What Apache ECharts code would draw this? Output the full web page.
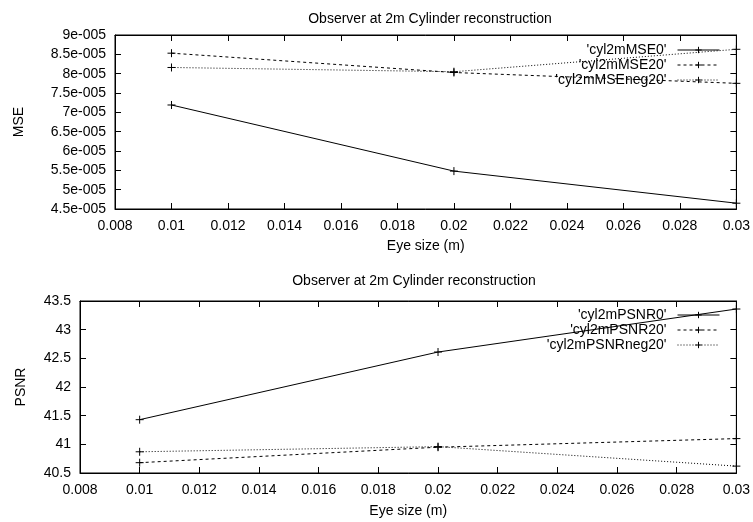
<!DOCTYPE html>
<html>
<head>
<meta charset="utf-8">
<script src="https://cdn.jsdelivr.net/npm/echarts@6/dist/echarts.min.js"></script>
<style>
  html, body { margin: 0; padding: 0; background: #fff; }
  #chart { width: 753px; height: 522px; }
</style>
</head>
<body>
<div id="chart"></div>
<script>
// eye size (m)
var eyeSize = [0.01, 0.02, 0.03]
// MSE per reconstruction
var mse0 = [7.19e-5, 5.48e-5, 4.65e-5]
var mse20 = [8.53e-5, 8.03e-5, 7.75e-5]
var mseNeg20 = [8.16e-5, 8.05e-5, 8.63e-5]
// PSNR per reconstruction
var psnr0 = [41.43, 42.61, 43.36]
var psnr20 = [40.68, 40.95, 41.10]
var psnrNeg20 = [40.87, 40.96, 40.62]

var titleText = 'Observer at 2m Cylinder reconstruction'
var font = 'Liberation Sans, Arial, Helvetica, sans-serif'
var plus = 'path://M0,5L10,5M5,0L5,10'

function pairs (ys) {
  return ys.map(function (y, i) { return [eyeSize[i], y] })
}

function mkSeries (name, ys, type, xi, yi) {
  return {
    name: name,
    type: 'line',
    xAxisIndex: xi,
    yAxisIndex: yi,
    symbol: plus,
    symbolSize: 8,
    showSymbol: true,
    animation: false,
    itemStyle: { color: 'transparent', borderColor: '#000', borderWidth: 1 },
    lineStyle: { color: '#000', width: 1, type: type },
    data: pairs(ys)
  }
}

function xAx (gi, pos, show, gap) {
  return {
    type: 'value', gridIndex: gi, position: pos,
    min: 0.008, max: 0.03, interval: 0.002,
    name: show ? 'Eye size (m)' : '', nameLocation: 'middle', nameGap: gap,
    nameTextStyle: { color: '#000', fontSize: 14, fontFamily: font },
    axisLine: { show: true, onZero: false, lineStyle: { color: '#000', width: 1 } },
    axisTick: { show: true, inside: true, length: 6, lineStyle: { color: '#000' } },
    axisLabel: { show: show, color: '#000', fontSize: 14, fontFamily: font, margin: 10,
      formatter: function (v) { return String(+v.toFixed(3)) } },
    splitLine: { show: false }
  }
}

function yAx (gi, pos, show, min, max, interval, name, gap, fmt) {
  return {
    type: 'value', gridIndex: gi, position: pos,
    min: min, max: max, interval: interval,
    name: show ? name : '', nameLocation: 'middle', nameGap: gap, nameRotate: 90,
    nameTextStyle: { color: '#000', fontSize: 14, fontFamily: font },
    axisLine: { show: true, onZero: false, lineStyle: { color: '#000', width: 1 } },
    axisTick: { show: true, inside: true, length: 6, lineStyle: { color: '#000' } },
    axisLabel: { show: show, color: '#000', fontSize: 14, fontFamily: font, margin: 9, formatter: fmt },
    splitLine: { show: false }
  }
}

var mseFmt = function (v) { return (Math.round(v * 1e6) / 10) + 'e-005' }
var psnrFmt = function (v) { return String(+v.toFixed(1)) }

var legendBase = {
  orient: 'vertical', align: 'right', right: 28,
  itemWidth: 42, itemHeight: 8, itemGap: 1,
  lineStyle: { width: 1 },
  itemStyle: { color: 'transparent', borderColor: '#000', borderWidth: 1 },
  textStyle: { color: '#000', fontSize: 14, fontFamily: font, padding: [0, 6, 0, 0] },
  inactiveColor: '#000'
}

var myChart = echarts.init(document.getElementById('chart'))
var option = {
  backgroundColor: '#fff',
  animation: false,
  title: [
    { text: titleText, left: 425, top: 7, textAlign: 'center',
      textStyle: { color: '#000', fontSize: 14, fontWeight: 'normal', fontFamily: font } },
    { text: titleText, left: 409, top: 269, textAlign: 'center',
      textStyle: { color: '#000', fontSize: 14, fontWeight: 'normal', fontFamily: font } }
  ],
  legend: [
    Object.assign({}, legendBase, { top: 38, data: ["'cyl2mMSE0'", "'cyl2mMSE20'", "'cyl2mMSEneg20'"] }),
    Object.assign({}, legendBase, { top: 303, data: ["'cyl2mPSNR0'", "'cyl2mPSNR20'", "'cyl2mPSNRneg20'"] })
  ],
  grid: [
    { left: 115, top: 35, right: 15, height: 174, show: true, borderColor: '#000', borderWidth: 1 },
    { left: 80, top: 301, right: 15, height: 172, show: true, borderColor: '#000', borderWidth: 1 }
  ],
  xAxis: [
    xAx(0, 'bottom', true, 30), xAx(0, 'top', false, 0),
    xAx(1, 'bottom', true, 31), xAx(1, 'top', false, 0)
  ],
  yAxis: [
    yAx(0, 'left', true, 4.5e-5, 9e-5, 0.5e-5, 'MSE', 89, mseFmt),
    yAx(0, 'right', false, 4.5e-5, 9e-5, 0.5e-5, '', 0, mseFmt),
    yAx(1, 'left', true, 40.5, 43.5, 0.5, 'PSNR', 52, psnrFmt),
    yAx(1, 'right', false, 40.5, 43.5, 0.5, '', 0, psnrFmt)
  ],
  series: [
    mkSeries("'cyl2mMSE0'", mse0, 'solid', 0, 0),
    mkSeries("'cyl2mMSE20'", mse20, [3, 3], 0, 0),
    mkSeries("'cyl2mMSEneg20'", mseNeg20, [1, 2], 0, 0),
    mkSeries("'cyl2mPSNR0'", psnr0, 'solid', 2, 2),
    mkSeries("'cyl2mPSNR20'", psnr20, [3, 3], 2, 2),
    mkSeries("'cyl2mPSNRneg20'", psnrNeg20, [1, 2], 2, 2)
  ]
}
myChart.setOption(option)
</script>
</body>
</html>
